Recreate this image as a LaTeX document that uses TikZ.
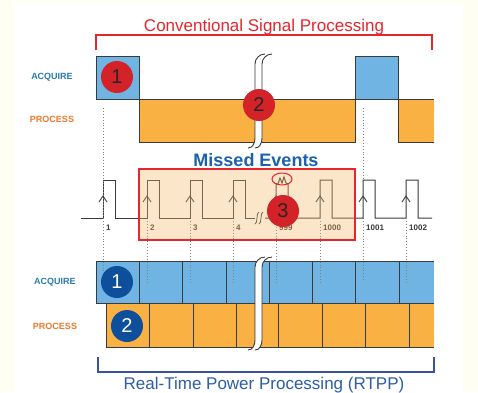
\documentclass[tikz,border=0pt]{standalone}
\usepackage{fontspec}
\setmainfont{Liberation Sans}
\definecolor{cream}{HTML}{FEFEF2}
\definecolor{acqblue}{HTML}{6FB4E3}
\definecolor{procorange}{HTML}{F8B142}
\definecolor{circred}{HTML}{D42229}
\definecolor{circblue}{HTML}{0E4F9B}
\definecolor{linered}{HTML}{E6262D}
\definecolor{labblue}{HTML}{2B7BB3}
\definecolor{laborange}{HTML}{EE7A2B}
\definecolor{missblue}{HTML}{1A62B0}
\definecolor{rtppblue}{HTML}{2D5DA8}
\definecolor{brackblue}{HTML}{3A50A5}
\definecolor{ink}{HTML}{3A3A3A}
\definecolor{peach}{HTML}{F6B868}
\tikzset{
  outline/.style={draw=ink, line width=1pt},
  pulse/.style={draw=ink, line width=1pt},
  dotline/.style={draw=gray, line width=0.9pt, dotted},
  brkline/.style={draw=ink, line width=0.9pt},
  rowlabel/.style={font=\bfseries\fontsize{9}{9}\selectfont},
  numlabel/.style={anchor=west, inner sep=0pt, text=ink, font=\bfseries\fontsize{8}{8}\selectfont},
  redcirc/.style={circle, fill=circred, minimum size=32pt, inner sep=0pt, text=black!85, font=\fontsize{20}{20}\selectfont},
  bluecirc/.style={circle, fill=circblue, minimum size=32pt, inner sep=0pt, text=white, font=\fontsize{20}{20}\selectfont},
}
\newcommand\mybreak[3]{%
  \fill[white] ({#1+10},#2) to[out=180,in=90] (#1,{#2+10}) -- (#1,{#3-10}) to[out=-90,in=0] ({#1-7},#3) -- (#1,#3) to[out=0,in=-90] ({#1+7},{#3-10}) -- ({#1+7},{#2+10}) to[out=90,in=180] ({#1+17},#2) -- cycle;
  \draw[brkline] ({#1+10},#2) to[out=180,in=90] (#1,{#2+10}) -- (#1,{#3-10}) to[out=-90,in=0] ({#1-7},#3);
  \draw[brkline] ({#1+17},#2) to[out=180,in=90] ({#1+7},{#2+10}) -- ({#1+7},{#3-10}) to[out=-90,in=0] (#1,#3);
}
\begin{document}
\begin{tikzpicture}[x=1pt,y=-1pt]
\useasboundingbox (0,0) rectangle (478,392);
\fill[cream] (0,0) rectangle (478,392);
\fill[white] (14,4) rectangle (463,392);

% ---- top bracket & title
\draw[linered, line width=1.3pt] (96,50) -- (96,35) -- (432,35) -- (432,50);
\node[anchor=base, text=linered, font=\fontsize{17}{17}\selectfont, inner sep=0pt] (title) at (264,31) {Conventional Signal Processing};

% ---- conventional waveform
\fill[acqblue] (96,56) rectangle (139,99);
\fill[procorange] (139,99) rectangle (355,142);
\fill[acqblue] (355,56) rectangle (398,99);
\fill[procorange] (398,99) rectangle (434,142);
\draw[outline] (96,99) -- (96,56) -- (139,56) -- (139,142) -- (355,142) -- (355,56) -- (398,56) -- (398,142) -- (434,142);
\draw[outline] (96,99) -- (434,99);
\mybreak{255}{54}{148}
\node[redcirc] (c1) at (117,77) {1};
\node[redcirc] (c2) at (259,105) {2};
\node[rowlabel, text=labblue] (acq1) at (52,77) {ACQUIRE};
\node[rowlabel, text=laborange] (proc1) at (52,119) {PROCESS};

% ---- missed events
\node[text=missblue, font=\bfseries\fontsize{18}{18}\selectfont, inner sep=0pt, anchor=base] (missed) at (256,166) {Missed Events};

% ---- pulse train
\draw[pulse] (81,218)
  \foreach \r in {103,147,190,233} { -- (\r,218) -- (\r,180) -- (\r+12,180) -- (\r+12,218) }
  -- (255,218);
\draw[pulse] (265,218) -- (276,218) -- (276,184) -- (278,184) -- (280,178) -- (282,183) -- (284,177) -- (286,183) -- (288,184) -- (288,218)
  \foreach \r in {320,363,406} { -- (\r,218) -- (\r,180) -- (\r+12,180) -- (\r+12,218) }
  -- (432,218);
\draw[pulse, line width=0.8pt] (255,224) .. controls (258,224) and (256,212) .. (259,212);
\draw[pulse, line width=0.8pt] (259,224) .. controls (262,224) and (260,212) .. (263,212);
\foreach \r in {103,147,190,233,276,320,363,406} {
  \draw[pulse, line width=0.9pt] (\r-4,202) -- (\r,196) -- (\r+4,202);
}
\foreach \r/\t/\n in {103/1/n1,147/2/n2,190/3/n3,233/4/n4,276/999/n999,320/1000/n1000,363/1001/n1001,406/1002/n1002} {
  \node[numlabel] (\n) at (\r+3,228) {\t};
}

% ---- lower bars
\fill[acqblue] (96,261) rectangle (434,303);
\fill[procorange] (106,303) rectangle (434,347);
\draw[outline] (434,261) -- (96,261) -- (96,303) -- (434,303);
\draw[outline] (106,303) -- (106,347) -- (434,347);
\foreach \x in {139,182,226,269,312,355,399} { \draw[outline] (\x,261) -- (\x,303); }
\foreach \x in {149,193,236,278,322,365,409} { \draw[outline] (\x,303) -- (\x,347); }
\mybreak{255}{257}{350}

% ---- dotted guides
\draw[dotline] (103,108) -- (103,282);
\draw[dotline] (363,108) -- (363,282);
\foreach \x in {147,190,233,276,320,406} { \draw[dotline] (\x,221) -- (\x,282); }

% ---- missed events box
\draw[linered, line width=1.8pt, fill=peach, fill opacity=0.35] (139,169) rectangle (355,240);
\draw[linered, line width=1pt] (282,179) ellipse (10pt and 6pt);
\node[redcirc] (c3) at (283,211) {3};

\node[bluecirc] (b1) at (117,282) {1};
\node[bluecirc] (b2) at (127,326) {2};
\node[rowlabel, text=labblue] (acq2) at (55,282) {ACQUIRE};
\node[rowlabel, text=laborange] (proc2) at (55,326) {PROCESS};

% ---- bottom bracket & title
\draw[brackblue, line width=1.3pt] (98,357) -- (98,372) -- (434,372) -- (434,357);
\node[anchor=base, text=rtppblue, font=\fontsize{17}{17}\selectfont, inner sep=0pt] (rtpp) at (264,389) {Real-Time Power Processing (RTPP)};
\end{tikzpicture}
\end{document}
